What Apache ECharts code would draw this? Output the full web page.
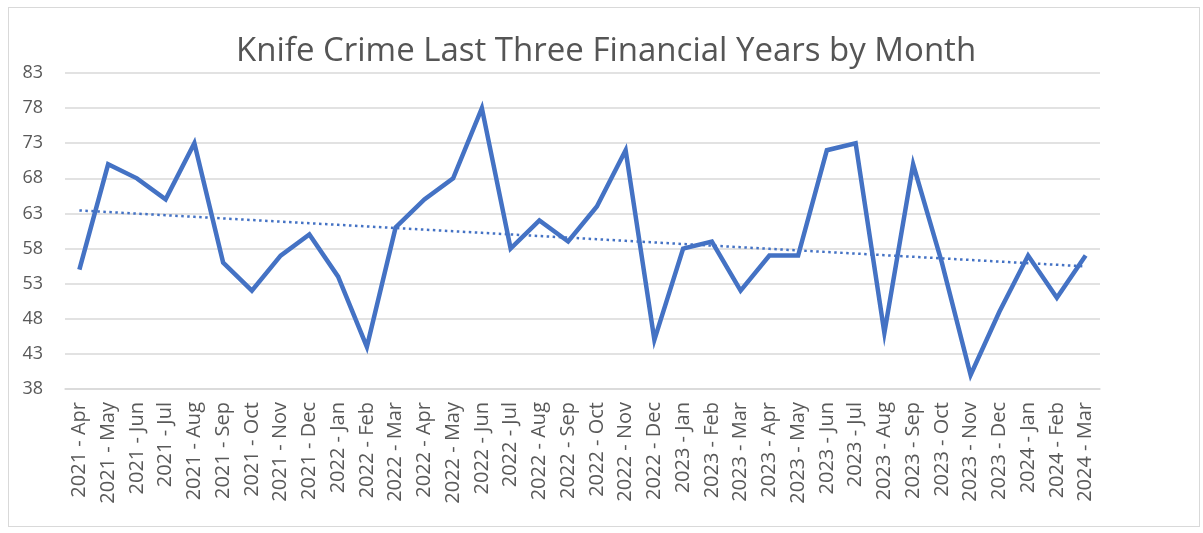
<!DOCTYPE html>
<html>
<head>
<meta charset="utf-8">
<script src="https://cdn.jsdelivr.net/npm/echarts@6/dist/echarts.min.js"></script>
<style>
  html, body { margin: 0; padding: 0; background: #ffffff; }
  #frame { position: absolute; left: 8px; top: 7px; width: 1192px; height: 520px; border: 1px solid #d9d9d9; box-sizing: border-box; }
  #chart { position: absolute; left: 0; top: 0; width: 1203px; height: 533px; }
</style>
</head>
<body>
<div id="frame"></div>
<div id="chart"></div>
<script>
// Monthly knife crime counts, April 2021 – March 2024
const months = [
  '2021 - Apr','2021 - May','2021 - Jun','2021 - Jul','2021 - Aug','2021 - Sep',
  '2021 - Oct','2021 - Nov','2021 - Dec','2022 - Jan','2022 - Feb','2022 - Mar',
  '2022 - Apr','2022 - May','2022 - Jun','2022 - Jul','2022 - Aug','2022 - Sep',
  '2022 - Oct','2022 - Nov','2022 - Dec','2023 - Jan','2023 - Feb','2023 - Mar',
  '2023 - Apr','2023 - May','2023 - Jun','2023 - Jul','2023 - Aug','2023 - Sep',
  '2023 - Oct','2023 - Nov','2023 - Dec','2024 - Jan','2024 - Feb','2024 - Mar'
];
const knifeCrime = [
  55, 70, 68, 65, 73, 56, 52, 57, 60, 54, 44, 61,
  65, 68, 78, 58, 62, 59, 64, 72, 45, 58, 59, 52,
  57, 57, 72, 73, 46, 70, 56, 40, 49, 57, 51, 57
];
const yTicks = { min: 38, max: 83, step: 5 };
const titleText = 'Knife Crime Last Three Financial Years by Month';

// Least-squares linear trend through the monthly counts
function linearTrend(values) {
  const n = values.length;
  let sx = 0, sy = 0, sxx = 0, sxy = 0;
  values.forEach((v, i) => { sx += i; sy += v; sxx += i * i; sxy += i * v; });
  const slope = (n * sxy - sx * sy) / (n * sxx - sx * sx);
  const intercept = (sy - slope * sx) / n;
  return values.map((_, i) => +(intercept + slope * i).toFixed(3));
}
const trend = linearTrend(knifeCrime);

const fontFamily = '"Open Sans", "Noto Sans", sans-serif';
const chart = echarts.init(document.getElementById('chart'), null, { renderer: 'canvas' });
chart.setOption({
  animation: false,
  backgroundColor: 'transparent',
  title: {
    text: titleText,
    left: 231,
    top: 30,
    textStyle: { fontFamily, fontSize: 33, fontWeight: 'normal', color: '#555555' }
  },
  grid: { left: 65, right: 103, top: 73, bottom: 144, containLabel: false },
  xAxis: {
    type: 'category',
    data: months,
    boundaryGap: true,
    axisLine: { show: true, lineStyle: { color: '#d9d9d9', width: 1.5 } },
    axisTick: { show: false },
    axisLabel: {
      rotate: 90,
      interval: 0,
      margin: 13,
      fontFamily,
      fontSize: 20,
      color: '#595959'
    }
  },
  yAxis: {
    type: 'value',
    min: yTicks.min,
    max: yTicks.max,
    interval: yTicks.step,
    axisLine: { show: false },
    axisTick: { show: false },
    axisLabel: { margin: 22, fontFamily, fontSize: 18, color: '#595959' },
    splitLine: { lineStyle: { color: '#d9d9d9', width: 1.5 } }
  },
  series: [
    {
      name: 'Knife Crime',
      type: 'line',
      data: knifeCrime,
      symbol: 'none',
      lineStyle: { color: '#4472C4', width: 4.5, join: 'miter' },
      z: 3
    },
    {
      name: 'Linear trend',
      type: 'line',
      data: trend,
      symbol: 'none',
      lineStyle: { color: '#4472C4', width: 2.5, type: [2.5, 3.5] },
      z: 2
    }
  ]
});
</script>
</body>
</html>
